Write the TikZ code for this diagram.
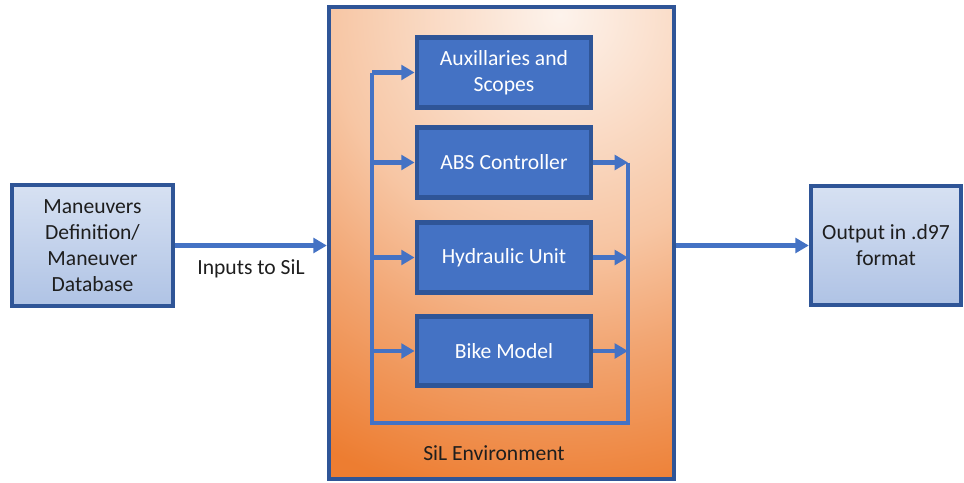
\documentclass[tikz,border=0pt]{standalone}
\usepackage{fontspec}
\setmainfont{Carlito}
\usetikzlibrary{arrows.meta,calc}

\definecolor{edgeblue}{HTML}{2F5597}
\definecolor{boxblue}{HTML}{4472C4}
\definecolor{linkblue}{HTML}{4472C4}
\definecolor{inkgray}{HTML}{1E1E1E}
% pale blue gradient of the outer boxes
\definecolor{pbtop}{HTML}{EAF0F9}
\definecolor{pbmid}{HTML}{ADC1E4}
\definecolor{pbbot}{HTML}{C6D3EC}
\pgfdeclareverticalshading{paleblue}{100bp}{color(0bp)=(pbbot); color(22bp)=(pbmid); color(100bp)=(pbtop)}
% orange glow of the environment box
\definecolor{sg0}{HTML}{FDF3EC}
\definecolor{sg1}{HTML}{F7C6A4}
\definecolor{sg2}{HTML}{F2A673}
\definecolor{sg3}{HTML}{ED7D31}
\pgfdeclareradialshading{silglow}{\pgfpointorigin}{color(0bp)=(sg0); color(11.7bp)=(sg1); color(17bp)=(sg2); color(25bp)=(sg3); color(50bp)=(sg3)}

\tikzset{
  txt/.style={font=\fontsize{16.2pt}{19.4pt}\selectfont, align=center, inner sep=0pt},
  outerbox/.style={txt, draw=edgeblue, line width=3.3pt, shading=paleblue, text=inkgray},
  unitbox/.style={txt, draw=edgeblue, line width=3.6pt, fill=boxblue, text=white,
    minimum width=130.5pt, minimum height=52pt},
  link/.style={draw=linkblue, line width=3.4pt},
  arr/.style={link, -{Triangle[length=10pt,width=11pt]}},
}

\begin{document}
\begin{tikzpicture}[x=0.75pt,y=-0.75pt]
\useasboundingbox (0,0) rectangle (964,482);

% environment box
\node[draw=edgeblue, line width=3.3pt, fill=sg3, minimum width=258.75pt, minimum height=354pt,
  path picture={\shade[shading=silglow] ([shift={(43.9pt,171pt)}]path picture bounding box.center) circle (370pt);}]
  (sil) at (501.5,243) {};
\node[txt, text=inkgray] (silname) at (494,453) {SiL Environment};

% input and output boxes
\node[outerbox, minimum width=120.75pt, minimum height=90.75pt] (man) at (92.5,245.5)
  {Maneuvers\\Definition/\\Maneuver\\Database};
\node[outerbox, minimum width=112.5pt, minimum height=89.25pt] (out) at (886,245.5)
  {Output in .d97\\format};

% simulation units
\node[unitbox] (aux)  at (504,72.5)  {Auxillaries and\\Scopes};
\node[unitbox] (abs)  at (504,162.5) {ABS Controller};
\node[unitbox] (hyd)  at (504,257.5) {Hydraulic Unit};
\node[unitbox] (bike) at (504,351)   {Bike Model};

% signal bus
\coordinate (busL) at (372,423);
\coordinate (busR) at (628,423);
\draw[link, line join=miter] (abs.east -| busR) -- (busR) -- (busL) -- (aux.west -| busL);

\draw[arr] (aux.west -| busL) -- (aux.west);
\draw[arr] (abs.west -| busL) -- (abs.west);
\draw[arr] (hyd.west -| busL) -- (hyd.west);
\draw[arr] (bike.west -| busL) -- (bike.west);

\draw[arr] (abs.east) -- (abs.east -| busR);
\draw[arr] (hyd.east) -- (hyd.east -| busR);
\draw[arr] (bike.east) -- (bike.east -| busR);

% input and output links
\draw[arr] (man.east) -- (man.east -| sil.west) node[txt, text=inkgray, midway, below=9pt] (inlabel) {Inputs to SiL};
\draw[arr] (sil.east |- out.west) -- (out.west);
\end{tikzpicture}
\end{document}
